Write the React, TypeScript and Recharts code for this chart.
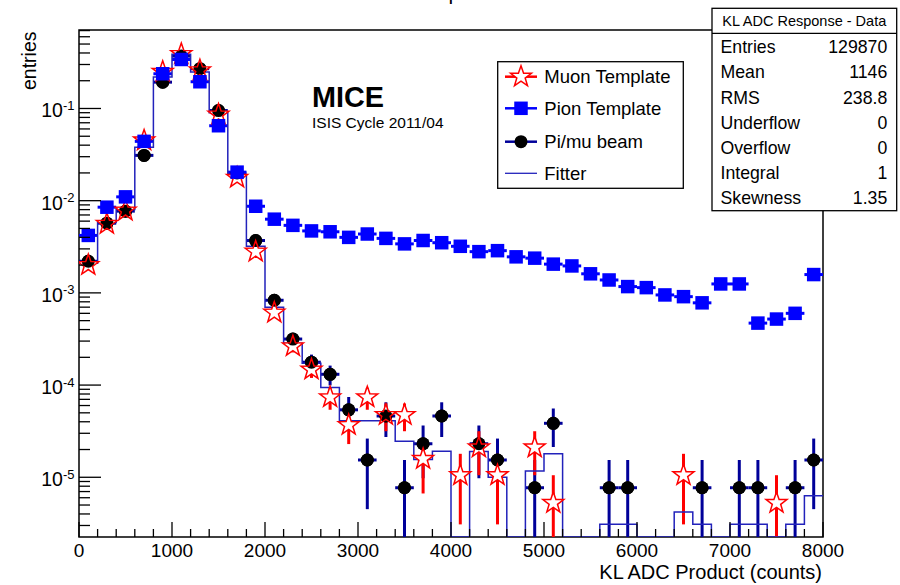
import React from 'react';
import { ComposedChart, XAxis, YAxis, Scatter, Line, ErrorBar, ReferenceArea } from 'recharts';

// bin centres (counts), 200 wide
const binCenters = [
  100, 300, 500, 700, 900, 1100, 1300, 1500, 1700, 1900,
  2100, 2300, 2500, 2700, 2900, 3100, 3300, 3500, 3700, 3900,
  4100, 4300, 4500, 4700, 4900, 5100, 5300, 5500, 5700, 5900,
  6100, 6300, 6500, 6700, 6900, 7100, 7300, 7500, 7700, 7900,
];
const BIN_WIDTH = 200;

// Pi/mu beam data, raw entries per bin
const beamEntries = 129870;
const beamCounts = [
  286, 740, 1000, 4026, 25065, 48040, 35065, 12338, 2597, 480,
  108, 41, 23, 17, 7, 2, 6, 1, 3, 6,
  0, 3, 2, 0, 1, 5, 0, 0, 1, 1,
  0, 0, 0, 1, 0, 1, 1, 0, 1, 2,
];

// muon template, raw entries per bin
const muonNorm = 190000;
const muonCounts = [
  380, 1064, 1482, 8550, 47500, 74100, 49400, 16340, 3363, 532,
  116, 50, 28, 14, 7, 14, 9, 9, 3, 0,
  2, 4, 2, 0, 4, 1, 0, 0, 0, 0,
  0, 0, 2, 0, 0, 0, 0, 1, 0, 0,
];

// pion template, normalised
const pionValues = [
  0.0042, 0.0085, 0.011, 0.044, 0.238, 0.34, 0.195, 0.065, 0.0204, 0.0087,
  0.0063, 0.0054, 0.0047, 0.0046, 0.004, 0.00435, 0.0039, 0.0034, 0.0037, 0.0035,
  0.0032, 0.0028, 0.00287, 0.00246, 0.00238, 0.00205, 0.00196, 0.00161, 0.00138, 0.00117,
  0.00114, 0.00095, 0.00091, 0.00078, 0.00125, 0.00125, 0.00047, 0.00052, 0.0006, 0.00158,
];

// fitter result (histogram)
const fitterValues = [
  0.0021, 0.0058, 0.008, 0.038, 0.219, 0.387, 0.249, 0.0898, 0.0192, 0.0032,
  0.0007, 0.000284, 0.000173, 9.4e-5, 4.1e-5, 4.1e-5, 4.1e-5, 2.46e-5, 1.56e-5, 1.92e-5,
  0, 1.9e-5, 1.0e-5, 0, 1.17e-5, 1.8e-5, 0, 0, 3.1e-6, 3.1e-6,
  0, 0, 4.2e-6, 3.1e-6, 0, 3.1e-6, 3.1e-6, 0, 3.1e-6, 6.3e-6,
];

const X_MAX = 8000;
const Y_MIN = 2.25e-6;
const Y_MAX = 0.71;
const xMajorTicks = [0, 1000, 2000, 3000, 4000, 5000, 6000, 7000, 8000];
const yDecades = [1e-6, 1e-5, 1e-4, 1e-3, 1e-2, 1e-1];
const yMinorSteps = [1, 2, 3, 4, 5, 6, 7, 8, 9];

const statLabels = ['Entries', 'Mean', 'RMS', 'Underflow', 'Overflow', 'Integral', 'Skewness'];
const statValues = ['129870', '1146', '238.8', '0', '0', '1', '1.35'];
const legendNames = ['Muon Template', 'Pion Template', 'Pi/mu beam', 'Fitter'];

const FONT = '"Liberation Sans", Arial, Helvetica, sans-serif';
const NAVY = '#000099';

const xTicks = binCenters.map(c => c - BIN_WIDTH / 2).concat(X_MAX);
const yTicks = yDecades
  .flatMap(d => yMinorSteps.map(m => m * d))
  .filter(v => v >= Y_MIN && v <= Y_MAX);

const lowErr = (y: number, e: number) => y - Math.max(y - e, Y_MIN);

const beamPoints = binCenters
  .map((x, i) => {
    const y = beamCounts[i] / beamEntries;
    const e = Math.sqrt(beamCounts[i]) / beamEntries;
    return { x, y, ex: BIN_WIDTH / 2, ey: [lowErr(y, e), e] };
  })
  .filter((p, i) => beamCounts[i] > 0);

const muonPoints = binCenters
  .map((x, i) => {
    const y = muonCounts[i] / muonNorm;
    const e = Math.sqrt(muonCounts[i]) / muonNorm;
    return { x, y, ey: [lowErr(y, e), e] };
  })
  .filter((p, i) => muonCounts[i] > 0);

const pionPoints = binCenters.map((x, i) => ({ x, y: pionValues[i], ex: BIN_WIDTH / 2 }));

const fitSteps = binCenters
  .map((c, i) => ({ x: c - BIN_WIDTH / 2, fit: Math.max(fitterValues[i], Y_MIN) }))
  .concat([{ x: X_MAX, fit: Math.max(fitterValues[fitterValues.length - 1], Y_MIN) }]);

const starPath = (cx: number, cy: number, R = 11, r = 4.4) => {
  let d = '';
  for (let i = 0; i < 10; i++) {
    const rad = i % 2 === 0 ? R : r;
    const a = -Math.PI / 2 + (i * Math.PI) / 5;
    d += (i ? 'L' : 'M') + (cx + rad * Math.cos(a)).toFixed(2) + ',' + (cy + rad * Math.sin(a)).toFixed(2);
  }
  return d + 'Z';
};

const Circle = (p: any) => <circle cx={p.cx} cy={p.cy} r={6.5} fill="#000" />;
const Square = (p: any) => <rect x={p.cx - 6.75} y={p.cy - 6.75} width={13.5} height={13.5} fill="#0000ff" />;
const StarFill = (p: any) => <path d={starPath(p.cx, p.cy)} fill="#fff" />;
const StarOutline = (p: any) => <path d={starPath(p.cx, p.cy)} fill="none" stroke="#ff0000" strokeWidth={1.5} />;

const XTick = (props: any) => {
  const { x, y, payload } = props;
  const major = payload.value % 1000 === 0;
  return (
    <g>
      <line x1={x} x2={x} y1={y} y2={y - (major ? 15 : 8)} stroke="#000" strokeWidth={1.3} />
      {major && (
        <text x={x} y={y + 20} textAnchor="middle" fontSize={19} fontFamily={FONT} fill="#000">
          {payload.value}
        </text>
      )}
    </g>
  );
};

const YTick = (props: any) => {
  const { x, y, payload } = props;
  const v = payload.value;
  const exp = Math.floor(Math.log10(v) + 1e-9);
  const major = Math.abs(v / Math.pow(10, exp) - 1) < 1e-6;
  return (
    <g>
      <line x1={x} x2={x + (major ? 22 : 11)} y1={y} y2={y} stroke="#000" strokeWidth={1.3} />
      {major && (
        <text x={x - 4.5} y={y + 9} textAnchor="end" fontSize={19.5} fontFamily={FONT} fill="#000">
          10<tspan dy={-7.5} fontSize={13}>{exp}</tspan>
        </text>
      )}
    </g>
  );
};

const legendRows = [76.7, 108.3, 141.7, 173.3];

const Overlay = () => (
  <svg width={900} height={585} style={{ position: 'absolute', left: 0, top: 0, pointerEvents: 'none' }} fontFamily={FONT}>
    <text x={450} y={0.3} textAnchor="middle" fontSize={21} fill="#000">KL ADC Response - Data</text>

    <text x={312} y={107.3} fontSize={28.8} fontWeight="bold" fill="#000">MICE</text>
    <text x={312} y={128.3} fontSize={15.5} fill="#000">ISIS Cycle 2011/04</text>

    <text transform="translate(35.5, 31.5) rotate(-90)" textAnchor="end" fontSize={19.5} fill="#000">entries</text>
    <text x={822} y={578.5} textAnchor="end" fontSize={20} fill="#000">KL ADC Product (counts)</text>

    {/* legend */}
    <rect x={497.7} y={61.7} width={185.6} height={126.6} fill="#fff" stroke="#000" strokeWidth={1.3} />
    <line x1={505} x2={537} y1={legendRows[0]} y2={legendRows[0]} stroke="#ff0000" strokeWidth={2.5} />
    <path d={starPath(521, legendRows[0])} fill="#fff" stroke="#ff0000" strokeWidth={1.5} />
    <line x1={505} x2={537} y1={legendRows[1]} y2={legendRows[1]} stroke="#0000ff" strokeWidth={2.5} />
    <rect x={521 - 6.75} y={legendRows[1] - 6.75} width={13.5} height={13.5} fill="#0000ff" />
    <line x1={505} x2={537} y1={legendRows[2]} y2={legendRows[2]} stroke={NAVY} strokeWidth={2.5} />
    <circle cx={521} cy={legendRows[2]} r={6.5} fill="#000" />
    <line x1={505} x2={537} y1={legendRows[3]} y2={legendRows[3]} stroke="#2222bb" strokeWidth={1.3} />
    {legendNames.map((n, i) => (
      <text key={n} x={544.3} y={legendRows[i] + 6.6} fontSize={18.5} fill="#000">{n}</text>
    ))}

    {/* stats box */}
    <rect x={712} y={8.3} width={184.7} height={202.4} fill="#fff" stroke="#000" strokeWidth={1.3} />
    <line x1={712} x2={896.7} y1={33.3} y2={33.3} stroke="#000" strokeWidth={1.3} />
    <text x={804.3} y={26.3} textAnchor="middle" fontSize={14.5} fill="#000">KL ADC Response - Data</text>
    {statLabels.map((l, i) => (
      <g key={l}>
        <text x={720.5} y={53.3 + i * 25.1} fontSize={17.7} fill="#000">{l}</text>
        <text x={887.3} y={53.3 + i * 25.1} textAnchor="end" fontSize={17.7} fill="#000">{statValues[i]}</text>
      </g>
    ))}
  </svg>
);

export default function App() {
  return (
    <div style={{ position: 'absolute', left: 0, top: 0, width: 900, height: 585, background: '#fff' }}>
      <ComposedChart width={900} height={585} margin={{ top: 30, right: 77, bottom: 0, left: 0 }}>
        <XAxis
          type="number"
          dataKey="x"
          domain={[0, X_MAX]}
          allowDataOverflow
          ticks={xTicks}
          interval={0}
          tick={XTick}
          tickLine={false}
          axisLine={false}
          tickSize={0}
          tickMargin={0}
          height={48}
        />
        <YAxis
          type="number"
          scale="log"
          domain={[Y_MIN, Y_MAX]}
          allowDataOverflow
          ticks={yTicks}
          interval={0}
          tick={YTick}
          tickLine={false}
          axisLine={false}
          tickSize={0}
          tickMargin={0}
          width={79}
        />
        <ReferenceArea x1={0} x2={X_MAX} y1={Y_MIN} y2={Y_MAX} fill="none" stroke="#000" strokeWidth={1.5} fillOpacity={0} />

        <Scatter data={beamPoints} dataKey="y" shape={Circle} isAnimationActive={false}>
          <ErrorBar dataKey="ey" direction="y" width={0} stroke={NAVY} strokeWidth={3} />
          <ErrorBar dataKey="ex" direction="x" width={0} stroke={NAVY} strokeWidth={3} />
        </Scatter>
        <Scatter data={muonPoints} dataKey="y" shape={StarFill} isAnimationActive={false}>
          <ErrorBar dataKey="ey" direction="y" width={0} stroke="#ff0000" strokeWidth={3} />
        </Scatter>
        <Scatter data={beamPoints} dataKey="y" shape={Circle} isAnimationActive={false} />
        <Scatter data={muonPoints} dataKey="y" shape={StarOutline} isAnimationActive={false} />
        <Scatter data={pionPoints} dataKey="y" shape={Square} isAnimationActive={false}>
          <ErrorBar dataKey="ex" direction="x" width={0} stroke="#0000ff" strokeWidth={3} />
        </Scatter>
        <Line
          data={fitSteps}
          dataKey="fit"
          type="stepAfter"
          stroke="#2222bb"
          strokeWidth={1.5}
          dot={false}
          activeDot={false}
          isAnimationActive={false}
        />
      </ComposedChart>
      <Overlay />
    </div>
  );
}
